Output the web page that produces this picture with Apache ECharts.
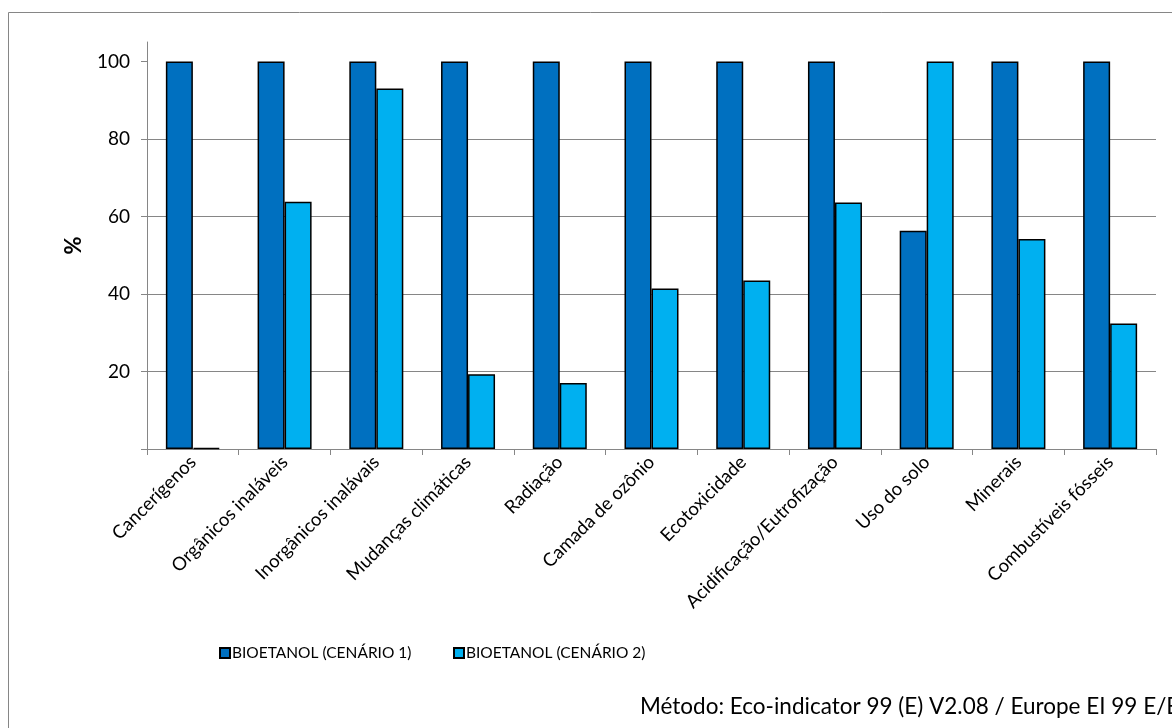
<!DOCTYPE html>
<html><head><meta charset="utf-8">
<script src="https://cdn.jsdelivr.net/npm/echarts@6/dist/echarts.min.js"></script>
<style>html,body{margin:0;padding:0;background:#fff}#c{width:1172px;height:728px}</style>
</head><body><div id="c"></div>
<script>
const categories = ['Cancerígenos','Orgânicos inaláveis','Inorgânicos inalávais','Mudanças climáticas','Radiação','Camada de ozônio','Ecotoxicidade','Acidificação/Eutrofização','Uso do solo','Minerais','Combustíveis fósseis'];
const serie1Name = 'BIOETANOL (CENÁRIO 1)';
const serie2Name = 'BIOETANOL (CENÁRIO 2)';
const serie1 = [100,100,100,100,100,100,100,100,56.3,100,100];
const serie2 = [0.3,63.8,93.0,19.3,17.0,41.4,43.5,63.6,100,54.2,32.4];
const yTicks = [20,40,60,80,100];
const footnote = 'Método: Eco-indicator 99 (E) V2.08 / Europe EI 99 E/E';

const FONT = 'Lato';
const axisGray = '#868686';
const chart = echarts.init(document.getElementById('c'));
chart.setOption({
  animation:false,
  textStyle:{fontFamily:FONT},
  grid:{left:147,right:16,top:42,bottom:279,containLabel:false},
  legend:[
    {data:[serie1Name],left:214,top:640,itemWidth:10,itemHeight:10,icon:'rect',itemGap:0,
     textStyle:{fontFamily:FONT,fontSize:15.5,color:'#000',padding:[0,0,0,-3]}},
    {data:[serie2Name],left:448,top:640,itemWidth:10,itemHeight:10,icon:'rect',itemGap:0,
     textStyle:{fontFamily:FONT,fontSize:15.5,color:'#000',padding:[0,0,0,-3]}}
  ],
  xAxis:{type:'category',data:categories,boundaryGap:true,
    axisLine:{lineStyle:{color:axisGray,width:1}},
    axisTick:{show:true,interval:0,length:6,lineStyle:{color:axisGray}},
    axisLabel:{interval:0,rotate:45,margin:10,fontSize:18.5,color:'#000',fontFamily:FONT},
    splitLine:{show:false}},
  yAxis:{type:'value',min:0,max:105,interval:20,
    name:'%',nameLocation:'middle',nameGap:62,nameRotate:90,
    nameTextStyle:{fontFamily:FONT,fontSize:22,fontWeight:'bold',color:'#000'},
    axisLine:{show:true,lineStyle:{color:axisGray,width:1}},
    axisTick:{show:true,length:6,lineStyle:{color:axisGray},customValues:[0,20,40,60,80,100]},
    axisLabel:{customValues:yTicks,fontSize:19,color:'#000',margin:17,fontFamily:FONT},
    splitLine:{show:true,showMaxLine:false,showMinLine:false,lineStyle:{color:axisGray,width:1}}},
  series:[
    {name:serie1Name,type:'bar',data:serie1,barWidth:27,barGap:'0%',
     itemStyle:{color:'#0070C0',borderColor:'#000',borderWidth:1.5}},
    {name:serie2Name,type:'bar',data:serie2,barWidth:27,barGap:'0%',
     itemStyle:{color:'#00B0F0',borderColor:'#000',borderWidth:1.5}}
  ],
  graphic:[
    {type:'rect',shape:{x:8.5,y:12.5,width:1300,height:900},style:{fill:'none',stroke:axisGray,lineWidth:1},silent:true,z:-1},
    {type:'text',left:640,top:695,style:{text:footnote,font:'22.5px '+FONT,fill:'#000'}}
  ]
});
</script></body></html>
